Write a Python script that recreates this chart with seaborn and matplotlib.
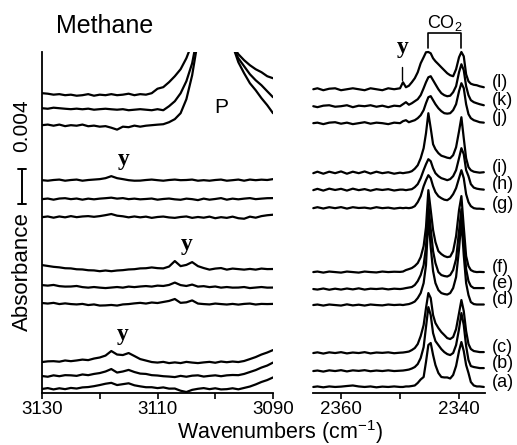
import numpy as np
import pandas as pd
import matplotlib
matplotlib.use("Agg")
import matplotlib.pyplot as plt
import matplotlib.transforms as mtransforms
import seaborn as sns

# ---------------- data (absorbance in 10^-3 units) ----------------
trace_names = ["a", "b", "c", "d", "e", "f", "g", "h", "i", "j", "k", "l"]

# methane region sampling (cm-1)
wn_left = list(range(3130, 3089, -1))
# CO2 region sampling (cm-1)
wn_right = [2364.7, 2364, 2363, 2362, 2361, 2360, 2359, 2358, 2357, 2356, 2355, 2354, 2353, 2352, 2351, 2350,
            2349.5, 2349, 2348.5, 2348, 2347.5, 2347, 2346.5, 2346, 2345.6, 2345.2, 2344.8, 2344.4, 2344,
            2343.5, 2343, 2342.5, 2342, 2341.5, 2341, 2340.5, 2340, 2339.6, 2339.2, 2338.8, 2338.4, 2338,
            2337.5, 2337, 2336.5, 2335.8]

# stacking offsets of each spectrum (mAbs)
offset_left = [0.46, 1.94, 3.54, 10.29, 12.34, 14.63, 20.11, 22.17, 24.34, 30.63, 32.57, 34.29]
offset_right = [0.69, 2.51, 4.57, 10.06, 11.89, 13.83, 21.14, 23.2, 25.14, 30.86, 32.8, 34.74]

left_a = [0.00, 0.10, -0.05, 0.08, -0.02, 0.12, 0.05, 0.18, 0.22, 0.32, 0.45, 0.60, 0.70, 0.45, 0.55, 0.65, 0.42, 0.30, 0.20, 0.20,
          0.10, 0.18, 0.04, 0.05, -0.20, -0.35, -0.10, 0.02, 0.10, -0.02, 0.08, -0.05, -0.02, 0.08, -0.04, 0.12, 0.28, 0.52, 0.80, 1.02, 1.32]
left_b = [0.00, -0.08, 0.08, -0.02, 0.10, 0.08, 0.02, 0.18, 0.10, 0.24, 0.34, 0.52, 0.80, 0.40, 0.52, 0.70, 0.46, 0.28, 0.24, 0.10,
          0.06, -0.02, -0.06, -0.12, 0.02, -0.08, 0.04, 0.08, -0.06, 0.02, 0.08, -0.02, 0.08, 0.12, 0.10, 0.24, 0.46, 0.68, 0.97, 1.20, 1.54]
left_c = [0.00, 0.08, 0.10, 0.04, 0.18, 0.10, 0.18, 0.28, 0.22, 0.40, 0.52, 0.74, 1.26, 0.86, 0.80, 1.03, 0.69, 0.34, 0.17, 0.00,
          -0.06, 0.02, -0.12, -0.04, -0.12, 0.02, -0.06, -0.12, -0.04, 0.02, -0.08, 0.06, -0.02, 0.06, 0.00, 0.12, 0.34, 0.57, 0.86, 1.09, 1.37]
left_d = [0.00, -0.06, 0.02, -0.12, -0.04, -0.12, -0.16, -0.10, -0.23, -0.16, -0.29, -0.27, -0.22, -0.29, -0.16, -0.12, -0.04, 0.02, -0.06, 0.06,
          0.00, 0.12, 0.24, 0.46, 0.02, 0.08, 0.30, -0.06, -0.12, -0.16, -0.06, -0.12, -0.17, -0.10, -0.18, -0.10, -0.06, -0.17, -0.10, -0.12, -0.10]
left_e = [0.00, -0.06, 0.02, -0.12, -0.17, -0.16, -0.10, -0.23, -0.29, -0.22, -0.29, -0.34, -0.28, -0.22, -0.29, -0.17, -0.23, -0.16, -0.11, -0.17,
          -0.06, -0.10, 0.02, 0.29, 0.00, -0.10, 0.06, -0.17, -0.12, -0.23, -0.16, -0.29, -0.22, -0.29, -0.28, -0.22, -0.34, -0.28, -0.22, -0.29, -0.28]
left_f = [0.00, -0.10, -0.20, -0.26, -0.36, -0.38, -0.48, -0.50, -0.59, -0.61, -0.70, -0.62, -0.70, -0.62, -0.58, -0.50, -0.47, -0.38, -0.36, -0.27,
          -0.35, -0.38, -0.17, 0.46, -0.12, 0.02, 0.34, -0.12, -0.34, -0.52, -0.40, -0.34, -0.52, -0.40, -0.46, -0.52, -0.44, -0.52, -0.40, -0.46, -0.45]
left_g = [0.00, 0.08, -0.06, 0.08, -0.02, 0.12, 0.00, 0.08, 0.12, 0.04, 0.12, 0.23, 0.36, 0.17, 0.10, -0.02, 0.08, -0.02, 0.06, -0.08,
          0.02, 0.07, -0.03, -0.08, 0.02, 0.08, -0.08, 0.02, -0.06, 0.06, -0.12, 0.00, -0.08, 0.06, -0.12, -0.18, 0.06, -0.06, 0.12, 0.22, 0.28]
left_h = [0.00, 0.07, -0.06, 0.07, 0.11, 0.00, 0.07, -0.06, 0.06, -0.02, 0.06, 0.11, 0.17, 0.06, 0.12, 0.00, 0.06, -0.02, 0.02, 0.07,
          -0.06, 0.02, 0.07, -0.02, -0.07, 0.06, 0.00, -0.11, 0.06, -0.06, 0.02, 0.12, -0.06, 0.06, -0.02, 0.06, 0.12, 0.00, 0.06, 0.11, 0.12]
left_i = [0.00, -0.06, 0.02, 0.07, -0.06, 0.02, 0.07, -0.06, 0.02, 0.07, 0.12, 0.23, 0.46, 0.23, 0.12, 0.00, -0.06, -0.05, 0.02, 0.07,
          0.00, -0.06, 0.02, 0.07, 0.00, 0.02, 0.07, -0.06, 0.00, -0.06, 0.02, 0.07, -0.06, 0.00, 0.07, -0.06, 0.07, 0.00, 0.06, 0.02, 0.12]
left_j = [0.00, 0.07, -0.06, 0.07, -0.11, 0.00, -0.06, 0.07, -0.12, -0.05, -0.17, -0.11, -0.29, -0.51, -0.17, -0.23, -0.05, -0.17, -0.06, 0.00,
          0.06, 0.11, 0.34, 0.69, 1.37, 2.97, 5.71, 9.71, 15, 20, 22, 20, 15, 9.14, 7.2, 5.94, 4.8, 4.0, 3.09, 2.29, 1.37]
left_k = [0.00, -0.06, 0.06, 0.00, -0.06, -0.11, -0.05, -0.12, -0.05, -0.17, -0.11, -0.06, -0.12, -0.17, -0.11, -0.23, -0.17, -0.11, -0.17, -0.23,
          -0.11, -0.23, 0.23, 0.80, 1.71, 3.09, 5.14, 8.57, 14, 19, 21, 19, 14, 7.09, 5.71, 4.8, 3.89, 3.2, 2.63, 1.94, 1.26]
left_l = [0.00, -0.06, -0.17, -0.11, -0.23, -0.17, -0.29, -0.23, -0.11, -0.29, -0.17, -0.23, -0.11, -0.23, -0.17, -0.06, -0.23, -0.11, -0.17, 0.00,
          0.51, 0.69, 1.26, 1.94, 2.74, 4.0, 5.71, 10, 16, 20, 20, 16, 10, 5.49, 4.46, 3.77, 3.2, 2.74, 2.4, 1.94, 1.71]

right_a = [0.00, 0.06, -0.04, 0.06, 0.00, 0.04, 0.11, 0.17, 0.06, 0.00, 0.06, -0.04, 0.04, 0.00, 0.06, 0.00, 0.00, 0.06, 0.06, 0.11,
           0.17, 0.46, 0.86, 1.14, 2.86, 4.80, 5.03, 3.66, 2.51, 1.60, 1.14, 1.09, 1.09, 0.97, 1.37, 2.40, 4.11, 5.14, 4.11, 2.51,
           1.60, 0.57, 0.17, 0.06, 0.06, 0.00]
right_b = [0.00, 0.06, -0.06, 0.08, 0.00, 0.10, -0.04, 0.08, 0.02, 0.10, -0.02, 0.06, 0.00, 0.08, 0.00, 0.04, 0.06, 0.11, 0.17, 0.29,
           0.46, 0.80, 1.49, 2.74, 5.03, 7.31, 6.40, 4.34, 3.43, 2.97, 2.51, 2.17, 1.94, 1.83, 2.06, 2.97, 4.80, 6.63, 5.26, 2.86,
           1.26, 0.57, 0.46, 0.40, 0.34, 0.34]
right_c = [0.00, 0.08, -0.06, 0.08, 0.00, 0.10, -0.04, 0.06, 0.00, 0.10, -0.04, 0.06, 0.02, 0.08, -0.02, 0.04, 0.06, 0.11, 0.17, 0.34,
           0.57, 1.03, 1.94, 3.20, 5.14, 6.86, 6.29, 4.34, 3.43, 2.86, 2.40, 2.06, 1.71, 1.60, 1.83, 2.74, 4.57, 6.06, 4.80, 2.51,
           1.03, 0.46, 0.23, 0.17, 0.11, 0.11]
right_d = [0.00, 0.06, -0.06, 0.06, 0.00, -0.06, 0.08, -0.04, 0.04, -0.06, 0.06, 0.00, -0.04, 0.06, 0.00, 0.04, 0.00, 0.06, 0.11, 0.23,
           0.40, 0.80, 1.37, 2.51, 4.57, 10.06, 6.63, 3.89, 2.51, 1.71, 1.37, 1.26, 1.20, 1.37, 1.94, 3.20, 6.40, 9.71, 5.71, 2.51,
           1.14, 0.34, 0.11, 0.06, 0.06, 0.06]
right_e = [0.00, -0.06, 0.06, -0.08, 0.04, -0.06, 0.06, -0.04, 0.08, -0.06, 0.04, 0.00, 0.06, -0.04, 0.04, 0.00, 0.04, 0.11, 0.17, 0.23,
           0.46, 0.91, 1.60, 2.74, 4.80, 9.71, 6.86, 4.34, 2.97, 1.94, 1.60, 1.49, 1.43, 1.60, 2.17, 3.43, 6.63, 9.14, 5.49, 2.29,
           0.91, 0.34, 0.11, 0.11, 0.11, 0.11]
right_f = [0.00, 0.06, -0.06, 0.06, 0.00, -0.06, 0.06, 0.00, -0.06, 0.06, 0.00, -0.04, 0.06, 0.00, 0.04, 0.02, 0.06, 0.23, 0.34, 0.46,
           0.69, 1.03, 1.71, 2.97, 5.14, 9.37, 7.09, 4.80, 3.43, 2.40, 2.06, 1.83, 1.71, 1.77, 2.40, 4.11, 7.09, 8.69, 5.14, 1.83,
           0.69, 0.23, 0.06, 0.00, 0.02, 0.00]
right_g = [0.00, 0.11, -0.04, 0.11, 0.00, 0.12, -0.05, 0.11, 0.02, 0.06, -0.04, 0.11, 0.00, 0.06, -0.05, 0.04, 0.00, 0.04, 0.00, 0.06,
           0.23, 0.69, 1.37, 2.51, 3.20, 3.77, 3.43, 2.51, 1.83, 1.37, 1.14, 0.97, 0.91, 1.14, 1.60, 2.29, 3.43, 4.34, 3.43, 1.60,
           0.69, 0.23, 0.00, -0.06, -0.06, -0.11]
right_h = [0.00, 0.15, -0.05, 0.17, 0.02, 0.15, -0.05, 0.17, 0.00, 0.12, -0.06, 0.11, 0.02, 0.11, -0.04, 0.06, 0.06, 0.00, 0.06, 0.11,
           0.34, 0.69, 1.37, 2.29, 2.97, 3.54, 3.31, 2.51, 1.94, 1.60, 1.37, 1.26, 1.14, 1.26, 1.60, 2.29, 3.66, 4.80, 4.11, 2.29,
           1.60, 0.69, 0.29, 0.17, 0.11, 0.06]
right_i = [0.00, 0.17, -0.06, 0.17, 0.00, 0.20, -0.06, 0.17, 0.00, 0.20, -0.04, 0.17, 0.00, 0.11, -0.06, 0.06, 0.00, 0.06, 0.11, 0.23,
           0.51, 0.91, 1.71, 2.86, 4.57, 6.86, 5.14, 3.31, 2.74, 2.29, 2.00, 1.89, 1.77, 1.71, 2.06, 2.97, 4.80, 6.40, 4.00, 1.71,
           0.69, 0.34, 0.17, 0.11, 0.06, 0.11]
right_j = [0.00, 0.06, -0.11, 0.06, 0.11, -0.06, 0.06, -0.11, 0.00, 0.11, -0.06, 0.06, 0.00, -0.11, 0.06, 0.00, 0.23, 0.34, 0.11, 0.23,
           0.34, 0.57, 0.91, 1.49, 2.29, 2.97, 3.09, 2.63, 2.17, 1.71, 1.37, 1.14, 1.09, 1.14, 1.49, 2.17, 3.66, 4.57, 4.00, 2.17,
           1.03, 0.57, 0.34, 0.23, 0.11, 0.06]
right_k = [0.00, -0.11, 0.06, 0.11, -0.06, 0.00, 0.11, -0.11, 0.06, 0.00, 0.11, -0.06, 0.06, -0.11, 0.06, 0.00, 0.23, 0.46, 0.17, 0.34,
           0.57, 0.80, 1.26, 2.06, 2.74, 3.31, 3.43, 2.97, 2.51, 1.94, 1.49, 1.26, 1.14, 1.20, 1.60, 2.29, 3.89, 4.80, 4.11, 2.29,
           1.26, 0.69, 0.46, 0.34, 0.23, 0.11]
right_l = [0.00, 0.11, -0.11, 0.06, 0.11, -0.11, 0.00, 0.11, 0.00, -0.11, 0.11, 0.00, -0.11, 0.11, 0.00, 0.11, 0.80, 0.23, 0.40, 0.80,
           1.26, 1.94, 2.97, 3.66, 4.23, 4.26, 4.11, 3.54, 3.20, 2.86, 2.51, 2.17, 1.83, 1.60, 1.49, 2.29, 3.66, 4.26, 3.77, 1.71,
           0.91, 0.63, 0.51, 0.46, 0.34, 0.23]

left_values = [left_a, left_b, left_c, left_d, left_e, left_f, left_g, left_h, left_i, left_j, left_k, left_l]
right_values = [right_a, right_b, right_c, right_d, right_e, right_f, right_g, right_h, right_i, right_j, right_k, right_l]

scale_bar = 0.004  # absorbance
y_marker_left = [3115.8, 3105.0, 3116.1]
y_marker_right = 2349.6
co2_bands = [2345.2, 2339.6]


def build(wn, offsets, values):
    rows = []
    for name, off, vals in zip(trace_names, offsets, values):
        for w, v in zip(wn, vals):
            rows.append({"wn": w, "A": (off + v) / 1000.0, "trace": name})
    return pd.DataFrame(rows)


df_left = build(wn_left, offset_left, left_values)
df_right = build(wn_right, offset_right, right_values)

# ---------------- style ----------------
sns.set_style("white")
plt.rcParams["font.family"] = ["Liberation Sans", "DejaVu Sans"]
plt.rcParams["mathtext.fontset"] = "custom"
plt.rcParams["mathtext.rm"] = "Liberation Sans"
plt.rcParams["mathtext.it"] = "Liberation Sans:italic"
plt.rcParams["text.color"] = "black"
plt.rcParams["axes.labelcolor"] = "black"
plt.rcParams["xtick.color"] = "black"
plt.rcParams["axes.edgecolor"] = "black"

W, H = 517, 445
fig = plt.figure(figsize=(W / 100, H / 100), dpi=100)
axL = fig.add_axes([42 / W, 52 / H, 231 / W, 341 / H])
axR = fig.add_axes([313 / W, 52 / H, 172 / W, 341 / H])

for ax, df in ((axL, df_left), (axR, df_right)):
    sns.lineplot(data=df, x="wn", y="A", units="trace", estimator=None, sort=False,
                 color="black", linewidth=1.6, ax=ax, legend=False)
    ax.set_ylim(0, 0.039)
    ax.set_xlabel("")
    ax.set_ylabel("")
    ax.set_yticks([])
    for s in ("top", "right"):
        ax.spines[s].set_visible(False)
    ax.spines["bottom"].set_linewidth(1.3)
    ax.spines["bottom"].set_color("black")
    ax.tick_params(axis="x", which="both", direction="out", length=4, width=1.2,
                   colors="black", labelcolor="black", labelsize=13.5, pad=2, bottom=True)

axL.set_xlim(3130, 3090)
axL.set_xticks([3130, 3110, 3090])
axL.set_xticks([3120, 3100], minor=True)
axL.spines["left"].set_linewidth(1.3)
axL.spines["left"].set_color("black")

axR.set_xlim(2364.75, 2335.6)
axR.set_xticks([2360, 2340])
axR.set_xticks([2350], minor=True)
axR.spines["left"].set_visible(False)
for ln in axR.lines:
    ln.set_clip_on(False)

# trace labels
for name, off, vals in zip(trace_names, offset_right, right_values):
    yend = (off + vals[-1]) / 1000.0
    axR.annotate(f"({name})", xy=(1.0, yend), xycoords=("axes fraction", "data"),
                 xytext=(5, 3.5), textcoords="offset points", ha="left", va="center",
                 fontsize=13, color="black", annotation_clip=False)

# 'y' markers
serif = dict(family=["Liberation Serif", "DejaVu Serif"], weight="bold", size=17)
for x, yb in zip(y_marker_left, [0.02606, 0.01634, 0.00606]):
    axL.text(x, yb, "y", ha="center", va="baseline", fontdict=serif, color="black")
axR.text(y_marker_right, 0.03886, "y", ha="center", va="baseline", fontdict=serif, color="black", clip_on=False)
axR.plot([y_marker_right, y_marker_right], [0.03726, 0.03577], color="black", lw=1.0, clip_on=False)

# CO2 bracket
ytop, ybot = 0.04114, 0.03943
axR.plot([co2_bands[0], co2_bands[0], co2_bands[1], co2_bands[1]], [ybot, ytop, ytop, ybot],
         color="black", lw=1.2, clip_on=False)
axR.text(sum(co2_bands) / 2, 0.0418, "CO$_2$", ha="center", va="baseline", fontsize=13, color="black", clip_on=False)

# P label
axL.text(3099.0, 0.0326, "P", ha="center", va="center", fontsize=15, color="black")

# scale bar
trans = mtransforms.blended_transform_factory(fig.transFigure, axL.transData)
y0 = 0.0216
xb = 22 / W
cap = 4 / W
axL.plot([xb, xb], [y0, y0 + scale_bar], transform=trans, color="black", lw=1.4, clip_on=False)
axL.plot([xb - cap, xb + cap], [y0, y0], transform=trans, color="black", lw=1.4, clip_on=False)
axL.plot([xb - cap, xb + cap], [y0 + scale_bar, y0 + scale_bar], transform=trans, color="black", lw=1.4, clip_on=False)

fig.text(22 / W, 1 - 126 / H, f"{scale_bar:.3f}", rotation=90, ha="center", va="center", fontsize=15, color="black")
fig.text(22 / W, 1 - 272 / H, "Absorbance", rotation=90, ha="center", va="center", fontsize=16, color="black")
fig.text(280 / W, 1 - 432 / H, "Wavenumbers (cm$^{-1}$)", ha="center", va="center", fontsize=15.5, color="black")
fig.text(105 / W, 1 - 26 / H, "Methane", ha="center", va="center", fontsize=18, color="black")

fig.savefig("out.png", dpi=100)
